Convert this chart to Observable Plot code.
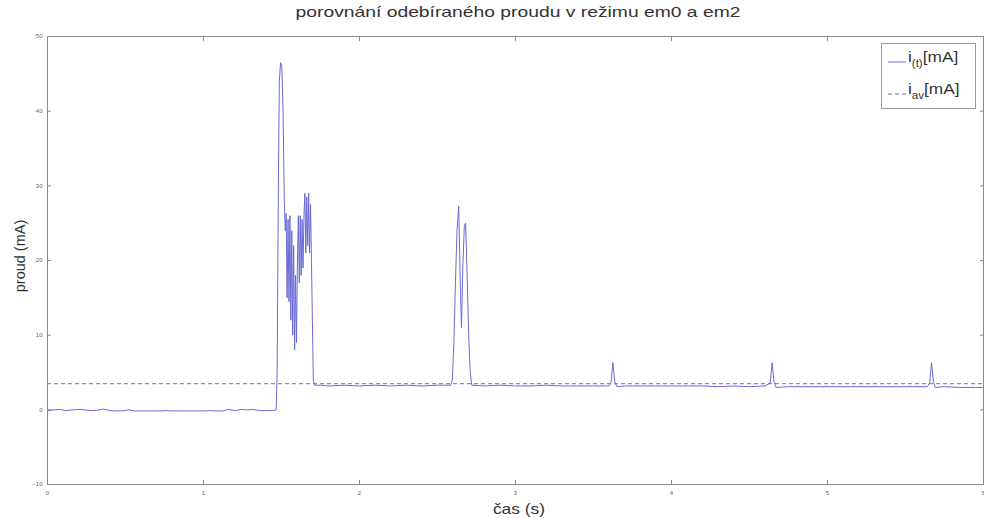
<!DOCTYPE html>
<html><head><meta charset="utf-8">
<script src="https://cdn.jsdelivr.net/npm/d3@7"></script>
<script src="https://cdn.jsdelivr.net/npm/@observablehq/plot@0.6"></script>
<style>
body{margin:0;background:#fff;}
#wrap{position:relative;width:984px;height:518px;overflow:hidden;font-family:"Liberation Sans",Arial,sans-serif;}
#chart{position:absolute;left:0;top:0;}
.lbl{position:absolute;white-space:nowrap;color:#333;line-height:1;}
#legend{position:absolute;left:881px;top:43px;width:95px;height:66px;border:1px solid #9a9a9a;background:#fff;box-sizing:border-box;}
.lrow{position:absolute;left:4px;height:20px;white-space:nowrap;}
.lrow svg{position:absolute;left:0;top:0;}
.ltxt{position:absolute;left:22px;top:0;font-size:15px;color:#333;transform-origin:left center;transform:scaleX(1.15);}
.ltxt sub{font-size:10px;vertical-align:-5px;}
</style></head><body>
<div id="wrap">
<div id="chart"></div>
<div class="lbl" id="title" style="left:518px;top:5px;font-size:14.5px;transform:translateX(-50%) scaleX(1.33);">porovnání odebíraného proudu v režimu em0 a em2</div>
<div class="lbl" id="xlab" style="left:519px;top:502px;font-size:14.5px;transform:translateX(-50%) scaleX(1.2);">čas (s)</div>
<div class="lbl" id="ylab" style="left:20px;top:256px;font-size:14.5px;transform:translate(-50%,-50%) rotate(-90deg);">proud (mA)</div>
<div id="legend">
  <div class="lrow" style="top:4px"><svg width="20" height="20"><line id="l1" x1="2" x2="20" y1="14" y2="14" stroke-width="1"/></svg><div class="ltxt">i<sub>(t)</sub>[mA]</div></div>
  <div class="lrow" style="top:36px"><svg width="20" height="20"><line id="l2" x1="2" x2="20" y1="14" y2="14" stroke-width="1" stroke-dasharray="4,3"/></svg><div class="ltxt">i<sub>av</sub>[mA]</div></div>
</div>
</div>
<script>
// time axis (s)
const tSec = [
  0,0.04,0.08,0.12,0.16,0.2,0.24,0.28,0.32,0.36,0.4,0.44,0.48,0.52,0.56,0.6,0.64,0.68,0.72,0.76,0.8,0.84,0.88,0.92,0.96,1.0,1.04,1.08,1.12,1.16,1.2,1.24,1.28,1.32,1.36,1.4,1.44,1.466,
  1.472,1.480,1.486,1.494,1.502,1.510,1.518,1.524,1.530,1.536,1.542,1.548,1.554,1.560,1.566,1.572,1.578,1.584,1.590,1.596,1.602,1.608,1.614,1.620,1.626,1.632,1.638,1.644,1.650,1.656,1.662,1.668,1.674,1.680,1.686,1.692,1.698,1.704,1.712,
  1.75,1.8,1.9,2.0,2.1,2.2,2.3,2.4,2.5,2.585,
  2.595,2.605,2.615,2.625,2.636,2.645,2.654,2.662,2.672,2.68,2.69,2.70,2.71,2.72,
  2.8,2.9,3.0,3.1,3.2,3.3,3.4,3.5,3.6,3.612,3.624,3.636,3.65,3.7,3.8,3.9,4.0,4.1,4.2,4.3,4.4,4.5,4.6,4.633,4.645,4.657,4.67,
  4.75,4.85,4.95,5.05,5.15,5.25,5.35,5.45,5.55,5.64,5.655,5.667,5.679,5.69,5.75,5.85,5.95,6.0
];
// measured current i(t) (mA)
const iMA = [
  -0.1,0.0,0.05,-0.1,0.0,0.05,0.0,-0.1,-0.05,0.1,-0.1,-0.15,-0.15,0.0,-0.15,-0.15,-0.15,-0.15,-0.15,-0.1,-0.15,-0.15,-0.15,-0.15,-0.15,-0.15,-0.1,-0.15,-0.15,0.05,-0.1,0.05,0.0,0.05,-0.1,-0.1,-0.1,0.0,
  5,30,44,46.5,46,40,28,24,26.3,15,25.5,14.5,26,12,24,10,22,8,18,9,20,26,17,26,18,25.5,19,26,29,21,28.5,22,29,21,27.5,20,12,4,3.3,
  3.3,3.2,3.3,3.2,3.3,3.2,3.3,3.2,3.3,3.3,
  4,9,17,24,27.3,18,11,19,24.6,25,18,10,5,3.3,
  3.2,3.3,3.2,3.2,3.3,3.2,3.2,3.2,3.2,3.6,6.3,3.8,3.1,3.2,3.2,3.2,3.2,3.2,3.2,3.1,3.2,3.1,3.2,3.6,6.3,3.8,3.0,
  3.1,3.1,3.1,3.1,3.1,3.1,3.1,3.1,3.1,3.1,3.6,6.3,3.8,3.0,3.1,3.0,3.0,3.0
];
// average current i_av (mA)
const iAvg = [3.5];
const xTicks = [0,1,2,3,4,5,6];
const yTicks = [-10,0,10,20,30,40,50];

const lineColor = "#6a6ad6";
document.getElementById("l1").setAttribute("stroke", lineColor);
document.getElementById("l2").setAttribute("stroke", lineColor);

const data = tSec.map((t, k) => ({t, i: iMA[k]}));
const tickStyle = {fontSize: 6, fill: "#666", stroke: "#8a8a8a", strokeWidth: 1};

const chart = Plot.plot({
  width: 984,
  height: 518,
  marginLeft: 47,
  marginRight: 1,
  marginTop: 36,
  marginBottom: 34,
  style: {fontFamily: "'Liberation Sans', Arial, sans-serif", background: "#fff"},
  x: {domain: [0, 6], label: null},
  y: {domain: [-10, 50], label: null},
  marks: [
    Plot.frame({stroke: "#8a8a8a"}),
    Plot.axisX(xTicks, {anchor: "bottom", tickSize: -4, tickPadding: 10, tickFormat: "d", label: null, ...tickStyle}),
    Plot.axisX(xTicks, {anchor: "top", tickSize: -4, tickFormat: () => "", label: null, ...tickStyle}),
    Plot.axisY(yTicks, {anchor: "left", tickSize: -4, tickPadding: 9, tickFormat: "d", label: null, ...tickStyle}),
    Plot.axisY(yTicks, {anchor: "right", tickSize: -4, tickFormat: () => "", label: null, ...tickStyle}),
    Plot.ruleY(iAvg, {stroke: lineColor, strokeWidth: 1, strokeDasharray: "4,3"}),
    Plot.line(data, {x: "t", y: "i", stroke: lineColor, strokeWidth: 1})
  ]
});
document.getElementById("chart").appendChild(chart);
</script>
</body></html>
